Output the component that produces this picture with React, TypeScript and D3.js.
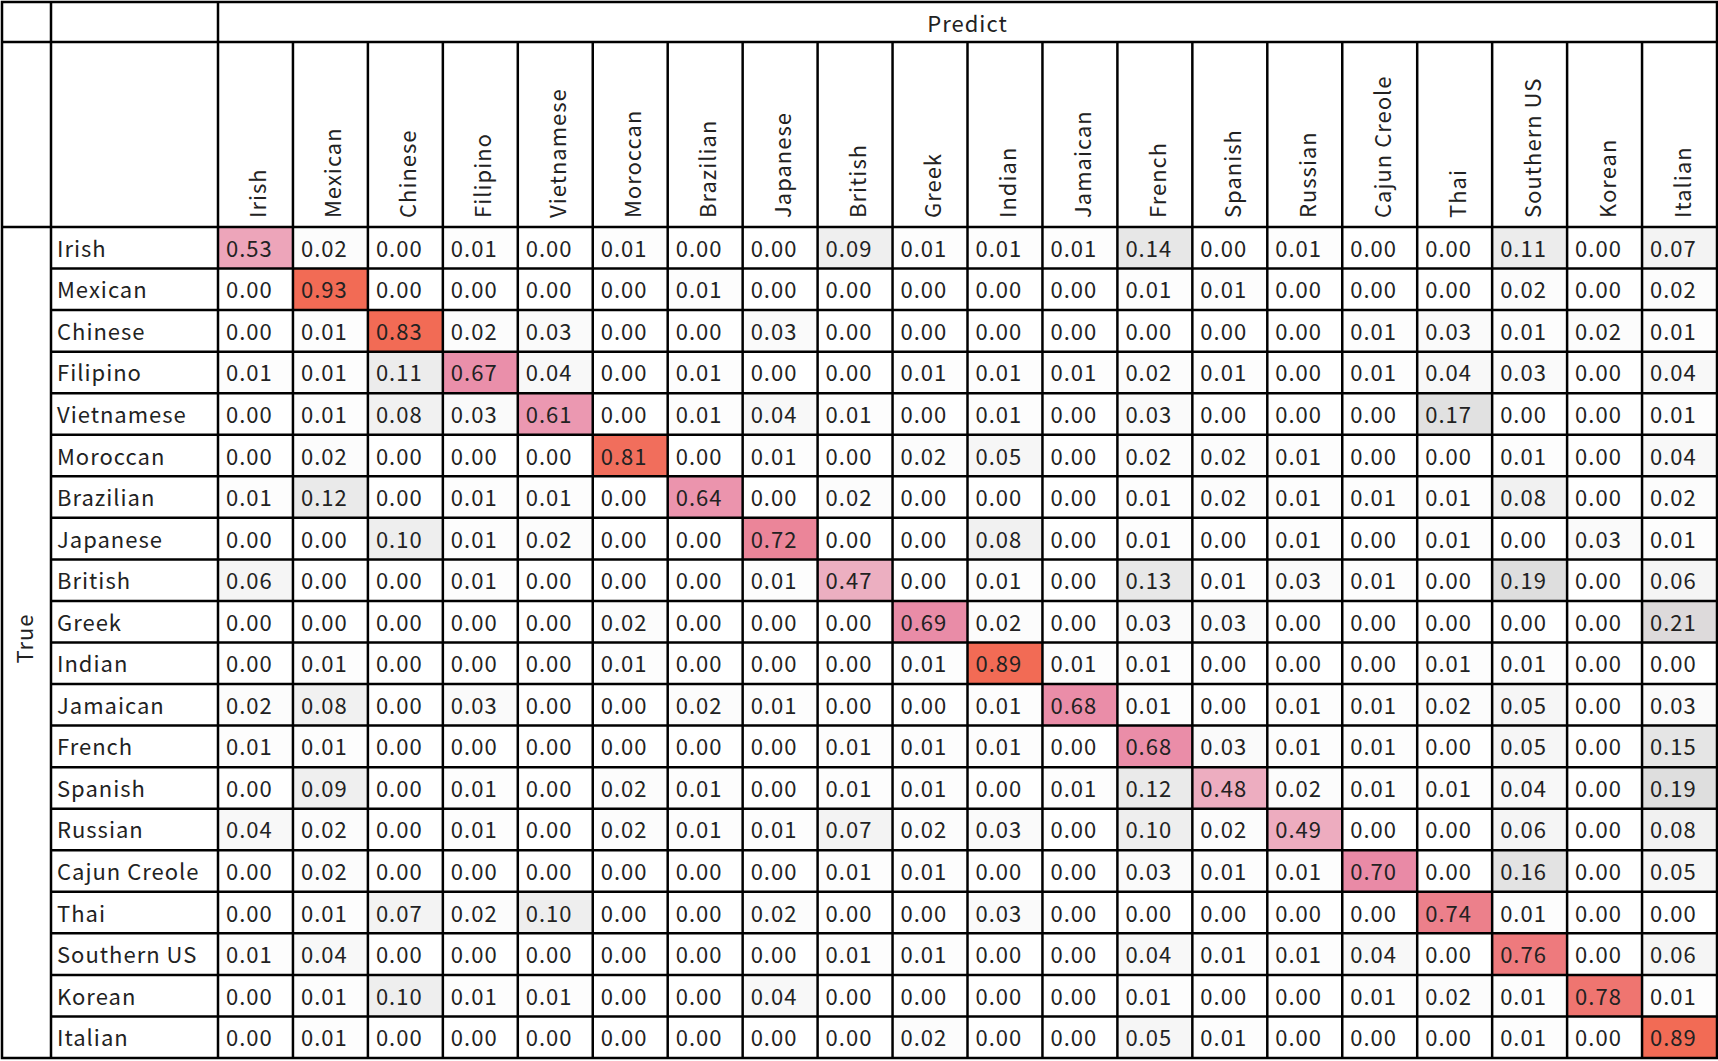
import React from 'react'
import * as d3 from 'd3'

const categories = ['Irish', 'Mexican', 'Chinese', 'Filipino', 'Vietnamese', 'Moroccan', 'Brazilian', 'Japanese', 'British', 'Greek', 'Indian', 'Jamaican', 'French', 'Spanish', 'Russian', 'Cajun Creole', 'Thai', 'Southern US', 'Korean', 'Italian']

// rows = true label, columns = predicted label
const irish = [0.53, 0.02, 0.00, 0.01, 0.00, 0.01, 0.00, 0.00, 0.09, 0.01, 0.01, 0.01, 0.14, 0.00, 0.01, 0.00, 0.00, 0.11, 0.00, 0.07]
const mexican = [0.00, 0.93, 0.00, 0.00, 0.00, 0.00, 0.01, 0.00, 0.00, 0.00, 0.00, 0.00, 0.01, 0.01, 0.00, 0.00, 0.00, 0.02, 0.00, 0.02]
const chinese = [0.00, 0.01, 0.83, 0.02, 0.03, 0.00, 0.00, 0.03, 0.00, 0.00, 0.00, 0.00, 0.00, 0.00, 0.00, 0.01, 0.03, 0.01, 0.02, 0.01]
const filipino = [0.01, 0.01, 0.11, 0.67, 0.04, 0.00, 0.01, 0.00, 0.00, 0.01, 0.01, 0.01, 0.02, 0.01, 0.00, 0.01, 0.04, 0.03, 0.00, 0.04]
const vietnamese = [0.00, 0.01, 0.08, 0.03, 0.61, 0.00, 0.01, 0.04, 0.01, 0.00, 0.01, 0.00, 0.03, 0.00, 0.00, 0.00, 0.17, 0.00, 0.00, 0.01]
const moroccan = [0.00, 0.02, 0.00, 0.00, 0.00, 0.81, 0.00, 0.01, 0.00, 0.02, 0.05, 0.00, 0.02, 0.02, 0.01, 0.00, 0.00, 0.01, 0.00, 0.04]
const brazilian = [0.01, 0.12, 0.00, 0.01, 0.01, 0.00, 0.64, 0.00, 0.02, 0.00, 0.00, 0.00, 0.01, 0.02, 0.01, 0.01, 0.01, 0.08, 0.00, 0.02]
const japanese = [0.00, 0.00, 0.10, 0.01, 0.02, 0.00, 0.00, 0.72, 0.00, 0.00, 0.08, 0.00, 0.01, 0.00, 0.01, 0.00, 0.01, 0.00, 0.03, 0.01]
const british = [0.06, 0.00, 0.00, 0.01, 0.00, 0.00, 0.00, 0.01, 0.47, 0.00, 0.01, 0.00, 0.13, 0.01, 0.03, 0.01, 0.00, 0.19, 0.00, 0.06]
const greek = [0.00, 0.00, 0.00, 0.00, 0.00, 0.02, 0.00, 0.00, 0.00, 0.69, 0.02, 0.00, 0.03, 0.03, 0.00, 0.00, 0.00, 0.00, 0.00, 0.21]
const indian = [0.00, 0.01, 0.00, 0.00, 0.00, 0.01, 0.00, 0.00, 0.00, 0.01, 0.89, 0.01, 0.01, 0.00, 0.00, 0.00, 0.01, 0.01, 0.00, 0.00]
const jamaican = [0.02, 0.08, 0.00, 0.03, 0.00, 0.00, 0.02, 0.01, 0.00, 0.00, 0.01, 0.68, 0.01, 0.00, 0.01, 0.01, 0.02, 0.05, 0.00, 0.03]
const french = [0.01, 0.01, 0.00, 0.00, 0.00, 0.00, 0.00, 0.00, 0.01, 0.01, 0.01, 0.00, 0.68, 0.03, 0.01, 0.01, 0.00, 0.05, 0.00, 0.15]
const spanish = [0.00, 0.09, 0.00, 0.01, 0.00, 0.02, 0.01, 0.00, 0.01, 0.01, 0.00, 0.01, 0.12, 0.48, 0.02, 0.01, 0.01, 0.04, 0.00, 0.19]
const russian = [0.04, 0.02, 0.00, 0.01, 0.00, 0.02, 0.01, 0.01, 0.07, 0.02, 0.03, 0.00, 0.10, 0.02, 0.49, 0.00, 0.00, 0.06, 0.00, 0.08]
const cajunCreole = [0.00, 0.02, 0.00, 0.00, 0.00, 0.00, 0.00, 0.00, 0.01, 0.01, 0.00, 0.00, 0.03, 0.01, 0.01, 0.70, 0.00, 0.16, 0.00, 0.05]
const thai = [0.00, 0.01, 0.07, 0.02, 0.10, 0.00, 0.00, 0.02, 0.00, 0.00, 0.03, 0.00, 0.00, 0.00, 0.00, 0.00, 0.74, 0.01, 0.00, 0.00]
const southernUS = [0.01, 0.04, 0.00, 0.00, 0.00, 0.00, 0.00, 0.00, 0.01, 0.01, 0.00, 0.00, 0.04, 0.01, 0.01, 0.04, 0.00, 0.76, 0.00, 0.06]
const korean = [0.00, 0.01, 0.10, 0.01, 0.01, 0.00, 0.00, 0.04, 0.00, 0.00, 0.00, 0.00, 0.01, 0.00, 0.00, 0.01, 0.02, 0.01, 0.78, 0.01]
const italian = [0.00, 0.01, 0.00, 0.00, 0.00, 0.00, 0.00, 0.00, 0.00, 0.02, 0.00, 0.00, 0.05, 0.01, 0.00, 0.00, 0.00, 0.01, 0.00, 0.89]

const matrix = [irish, mexican, chinese, filipino, vietnamese, moroccan, brazilian, japanese, british, greek, indian, jamaican, french, spanish, russian, cajunCreole, thai, southernUS, korean, italian]

const W = 1718
const H = 1061
const FONT = '"Noto Sans CJK JP", "Noto Sans", sans-serif'

export default function App() {
    const left = 2, labelX = 51, gridX = 218, right = 1717
    const top = 2, headY = 42, gridY = 227, bottom = 1058

    const x = d3.scaleBand().domain(categories).range([gridX, right])
    const y = d3.scaleBand().domain(categories).range([gridY, bottom])

    const color = d3.scaleLinear<string>()
        .domain([0, 0.2, 0.5, 0.7, 0.82])
        .range(['#ffffff', '#dcdcdc', '#eeaabe', '#e98aa6', '#f26b55'])
        .clamp(true)

    const fmt = d3.format('.2f')
    const lw = 2.5
    const fs = 22

    return (
        <svg width={W} height={H} style={{ position: 'absolute', left: 0, top: 0, background: 'white' }}
            fontFamily={FONT} fontWeight={400} letterSpacing={1}>
            {/* cells */}
            {matrix.map((row, i) => row.map((v, j) => (
                <g key={`${i}-${j}`}>
                    <rect x={x(categories[j])} y={y(categories[i])} width={x.bandwidth()} height={y.bandwidth()}
                        fill={color(v)} />
                    <text x={x(categories[j])! + 8} y={y(categories[i])! + y.bandwidth() / 2 - 1}
                        dominantBaseline="central" fontSize={fs} fill="#222">{fmt(v)}</text>
                </g>
            )))}

            {/* row labels */}
            {categories.map(c => (
                <text key={'r' + c} x={labelX + 6} y={y(c)! + y.bandwidth() / 2 - 1}
                    dominantBaseline="central" fontSize={fs} fill="#222">{c}</text>
            ))}

            {/* column labels */}
            {categories.map(c => (
                <text key={'c' + c} transform={`translate(${x(c)! + x.bandwidth() / 2 + 1},${gridY - 9}) rotate(-90)`}
                    dominantBaseline="central" fontSize={fs} fill="#222">{c}</text>
            ))}

            <text x={(gridX + right) / 2} y={(top + headY) / 2} textAnchor="middle"
                dominantBaseline="central" fontSize={fs} fill="#222">Predict</text>
            <text transform={`translate(${(left + labelX) / 2 - 4},${(gridY + bottom) / 2 - 4}) rotate(-90)`} textAnchor="middle"
                dominantBaseline="central" fontSize={fs} fill="#222">True</text>

            {/* grid lines */}
            <g stroke="#000" strokeWidth={lw} fill="none">
                <rect x={left} y={top} width={right - left} height={bottom - top} />
                <line x1={left} x2={right} y1={headY} y2={headY} />
                <line x1={left} x2={right} y1={gridY} y2={gridY} />
                <line x1={labelX} x2={labelX} y1={top} y2={bottom} />
                <line x1={gridX} x2={gridX} y1={top} y2={bottom} />
                {categories.slice(1).map(c => (
                    <line key={'v' + c} x1={x(c)} x2={x(c)} y1={headY} y2={bottom} />
                ))}
                {categories.slice(1).map(c => (
                    <line key={'h' + c} x1={labelX} x2={right} y1={y(c)} y2={y(c)} />
                ))}
            </g>
        </svg>
    )
}
